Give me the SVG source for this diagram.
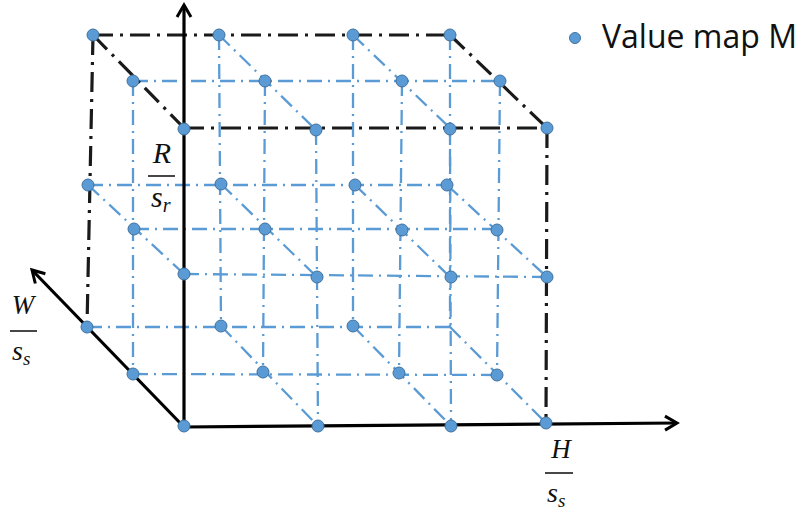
<svg xmlns="http://www.w3.org/2000/svg" width="801" height="512" viewBox="0 0 801 512">
<defs>
<style>
.bl{stroke:#5B9BD5;stroke-width:2.3;stroke-dasharray:15 6 2 6;fill:none}
.bk{stroke:#1a1a1a;stroke-width:3.2;stroke-dasharray:20 7 3 7;fill:none}
.ax{stroke:#000;stroke-width:3.2;fill:none}
.dot{fill:#5B9BD5;stroke:#41719C;stroke-width:1}
.lab{font-family:"Liberation Serif",serif;font-style:italic;fill:#111}
.bar{stroke:#333;stroke-width:1.8}
.leg{font-family:"Open Sans","Liberation Sans",sans-serif;font-size:32px;fill:#111}
</style>
<marker id="arr" markerUnits="userSpaceOnUse" markerWidth="18" markerHeight="18" viewBox="0 0 18 18" refX="15" refY="9" orient="auto">
<path d="M3,2 L15,9 L3,16" fill="none" stroke="#000" stroke-width="3"/>
</marker>
</defs>
<rect width="801" height="512" fill="#fff"/>
<g id="connectors">
<line class="bl" x1="88" y1="185" x2="447" y2="185"/>
<line class="bl" x1="87" y1="327" x2="450" y2="327"/>
<line class="bl" x1="133" y1="81" x2="500" y2="81"/>
<line class="bl" x1="134" y1="229" x2="497" y2="229"/>
<line class="bl" x1="133" y1="374" x2="497" y2="375"/>
<line class="bl" x1="184" y1="274" x2="547" y2="277"/>
<line class="bl" x1="219" y1="35" x2="221" y2="326"/>
<line class="bl" x1="353" y1="35" x2="353" y2="326"/>
<line class="bl" x1="450" y1="35" x2="450" y2="327"/>
<line class="bl" x1="133" y1="81" x2="133" y2="374"/>
<line class="bl" x1="265" y1="81" x2="263" y2="373"/>
<line class="bl" x1="402" y1="81" x2="399" y2="373"/>
<line class="bl" x1="500" y1="81" x2="497" y2="375"/>
<line class="bl" x1="316" y1="130" x2="318" y2="426"/>
<line class="bl" x1="450" y1="128" x2="451" y2="426"/>
<line class="bl" x1="219" y1="35" x2="316" y2="130"/>
<line class="bl" x1="353" y1="35" x2="450" y2="128"/>
<line class="bl" x1="88" y1="185" x2="184" y2="274"/>
<line class="bl" x1="221" y1="184" x2="317" y2="277"/>
<line class="bl" x1="355" y1="185" x2="450" y2="277"/>
<line class="bl" x1="447" y1="185" x2="547" y2="277"/>
<line class="bl" x1="221" y1="326" x2="318" y2="426"/>
<line class="bl" x1="353" y1="326" x2="451" y2="426"/>
<line class="bl" x1="450" y1="327" x2="546" y2="423"/>
<line class="bk" x1="93" y1="35" x2="450" y2="35"/>
<line class="bk" x1="93" y1="35" x2="87" y2="327"/>
<line class="bk" x1="93" y1="35" x2="184" y2="128"/>
<line class="bk" x1="450" y1="35" x2="547" y2="128"/>
<line class="bk" x1="184" y1="128" x2="547" y2="128"/>
<line class="bk" x1="547" y1="128" x2="546" y2="423"/>
<line class="ax" x1="184" y1="427" x2="184" y2="5" marker-end="url(#arr)"/>
<line class="ax" x1="184" y1="427" x2="677" y2="423" marker-end="url(#arr)"/>
<line class="ax" x1="184" y1="427" x2="32" y2="270" marker-end="url(#arr)"/>
</g>
<g id="b00"><circle class="dot" cx="93" cy="35" r="6"/></g>
<g id="b01"><circle class="dot" cx="219" cy="35" r="6"/></g>
<g id="b02"><circle class="dot" cx="353" cy="35" r="6"/></g>
<g id="b03"><circle class="dot" cx="450" cy="35" r="6"/></g>
<g id="b10"><circle class="dot" cx="88" cy="185" r="6"/></g>
<g id="b11"><circle class="dot" cx="221" cy="184" r="6"/></g>
<g id="b12"><circle class="dot" cx="355" cy="185" r="6"/></g>
<g id="b13"><circle class="dot" cx="447" cy="185" r="6"/></g>
<g id="b20"><circle class="dot" cx="87" cy="327" r="6"/></g>
<g id="b21"><circle class="dot" cx="221" cy="326" r="6"/></g>
<g id="b22"><circle class="dot" cx="353" cy="326" r="6"/></g>
<g id="m00"><circle class="dot" cx="133" cy="81" r="6"/></g>
<g id="m01"><circle class="dot" cx="265" cy="81" r="6"/></g>
<g id="m02"><circle class="dot" cx="402" cy="81" r="6"/></g>
<g id="m03"><circle class="dot" cx="500" cy="81" r="6"/></g>
<g id="m10"><circle class="dot" cx="134" cy="229" r="6"/></g>
<g id="m11"><circle class="dot" cx="265" cy="229" r="6"/></g>
<g id="m12"><circle class="dot" cx="402" cy="230" r="6"/></g>
<g id="m13"><circle class="dot" cx="497" cy="230" r="6"/></g>
<g id="m20"><circle class="dot" cx="133" cy="374" r="6"/></g>
<g id="m21"><circle class="dot" cx="263" cy="372" r="6"/></g>
<g id="m22"><circle class="dot" cx="399" cy="373" r="6"/></g>
<g id="m23"><circle class="dot" cx="497" cy="375" r="6"/></g>
<g id="f00"><circle class="dot" cx="184" cy="129" r="6"/></g>
<g id="f01"><circle class="dot" cx="316" cy="130" r="6"/></g>
<g id="f02"><circle class="dot" cx="450" cy="129" r="6"/></g>
<g id="f03"><circle class="dot" cx="547" cy="128" r="6"/></g>
<g id="f10"><circle class="dot" cx="184" cy="274" r="6"/></g>
<g id="f11"><circle class="dot" cx="317" cy="277" r="6"/></g>
<g id="f12"><circle class="dot" cx="451" cy="277" r="6"/></g>
<g id="f13"><circle class="dot" cx="547" cy="277" r="6"/></g>
<g id="f20"><circle class="dot" cx="184" cy="426" r="6"/></g>
<g id="f21"><circle class="dot" cx="318" cy="426" r="6"/></g>
<g id="f22"><circle class="dot" cx="451" cy="426" r="6"/></g>
<g id="f23"><circle class="dot" cx="546" cy="423" r="6"/></g>
<g id="label-r">
<text class="lab" x="162" y="163" font-size="30" text-anchor="middle">R</text>
<line class="bar" x1="148" y1="176" x2="175" y2="176"/>
<text class="lab" x="151" y="207" font-size="30">s<tspan font-size="20" dy="5">r</tspan></text>
</g>
<g id="label-w">
<text class="lab" x="23" y="314" font-size="27" text-anchor="middle">W</text>
<line class="bar" x1="10" y1="331" x2="37" y2="331"/>
<text class="lab" x="12" y="360" font-size="28">s<tspan font-size="19" dy="5">s</tspan></text>
</g>
<g id="label-h">
<text class="lab" x="561" y="458" font-size="27" text-anchor="middle">H</text>
<line class="bar" x1="545" y1="473" x2="573" y2="473"/>
<text class="lab" x="547" y="502" font-size="28">s<tspan font-size="19" dy="5">s</tspan></text>
</g>
<g id="legend">
<circle class="dot" cx="575" cy="38" r="5.5"/>
<text class="leg" x="602" y="48">Value map M</text>
</g>
</svg>
